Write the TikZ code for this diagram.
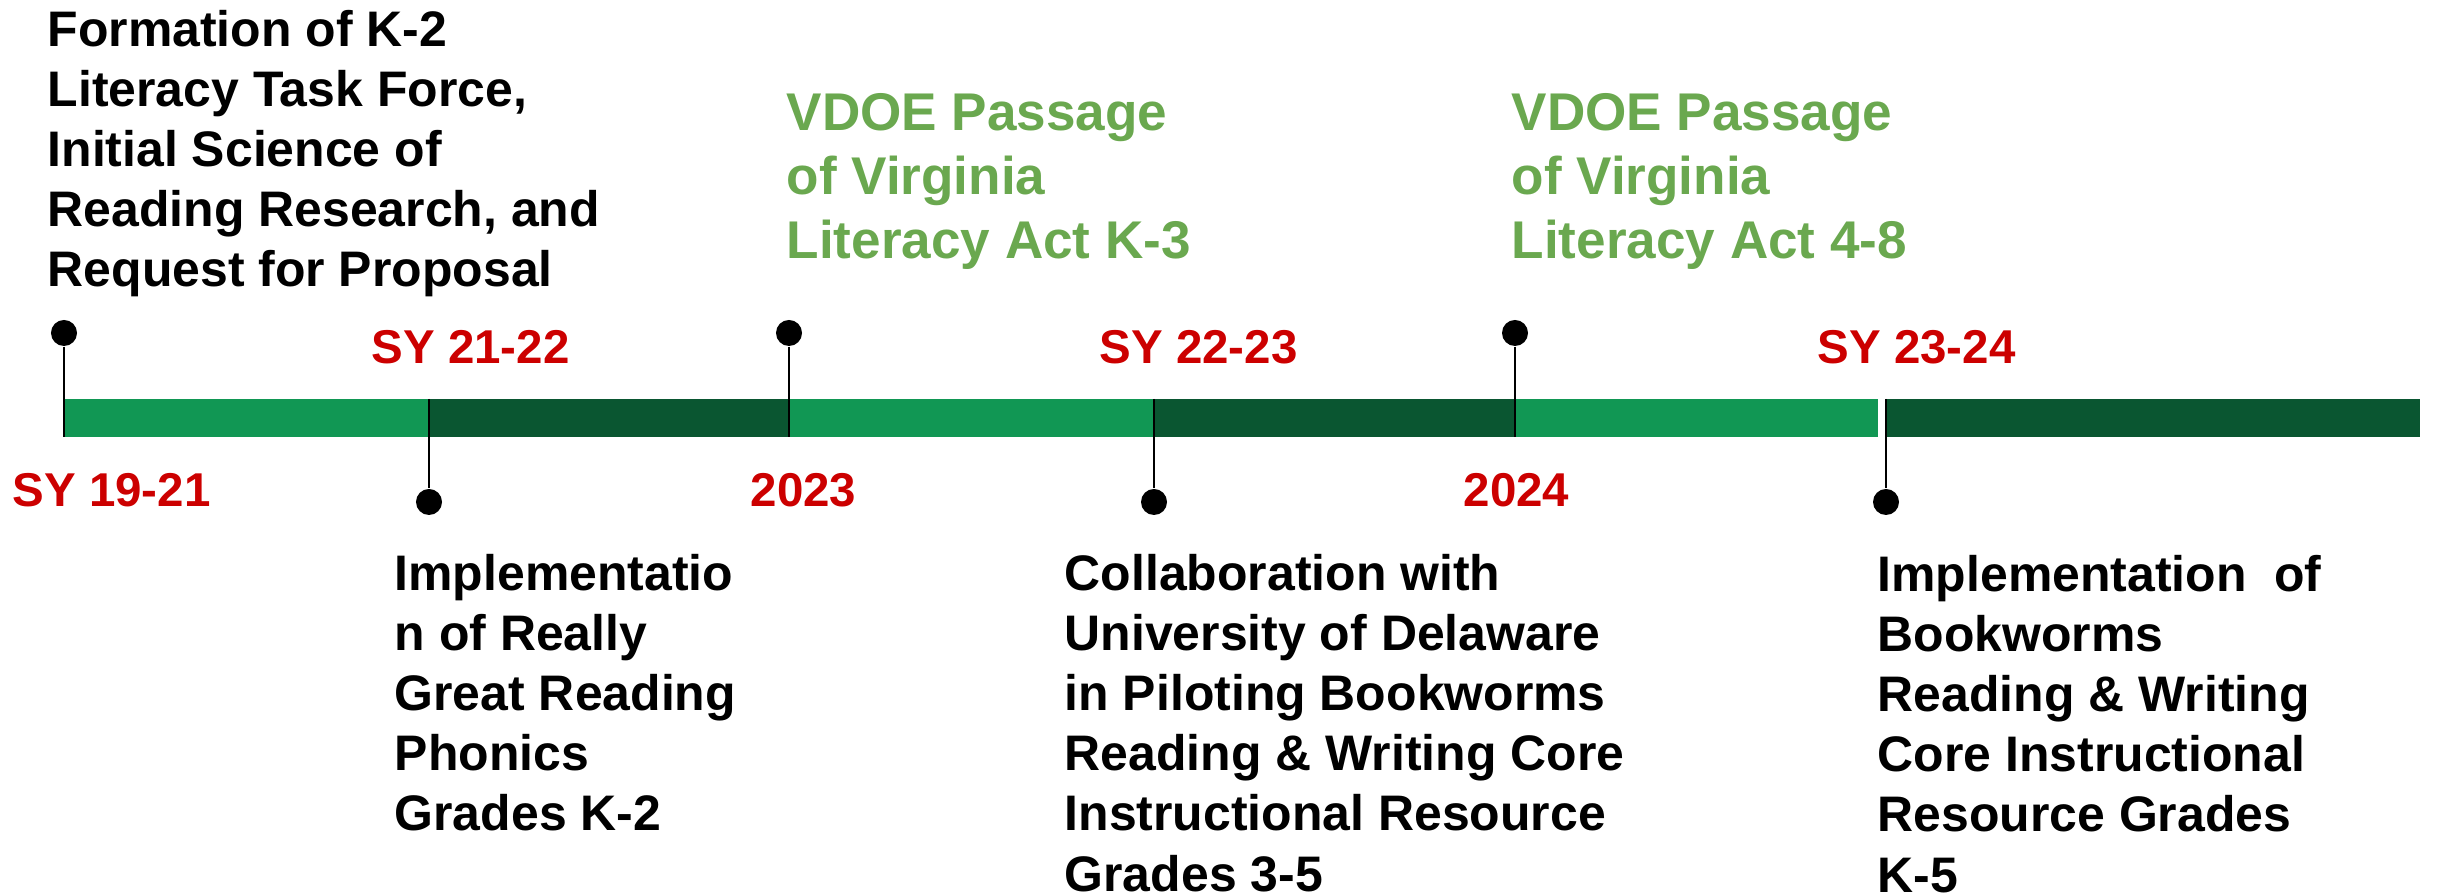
\documentclass[tikz,border=0pt]{standalone}
\usepackage{fontspec}
\setmainfont{Liberation Sans}
\definecolor{barlight}{RGB}{17,151,84}
\definecolor{bardark}{RGB}{10,86,49}
\definecolor{actgreen}{RGB}{106,168,79}
\definecolor{yearred}{RGB}{204,0,0}
\tikzset{
    pindot/.style={circle,fill=black,inner sep=0pt,minimum size=0.26cm},
    pinline/.style={line width=0.6pt},
    yearlabel/.style={anchor=base west,inner sep=0pt,text=yearred,font=\fontsize{13.5}{16.2}\selectfont\bfseries},
    eventtext/.style={anchor=north west,inner sep=0pt,align=left,font=\fontsize{14.2}{17.07}\selectfont\bfseries},
    acttext/.style={anchor=north west,inner sep=0pt,align=left,text=actgreen,font=\fontsize{15.1}{18.2}\selectfont\bfseries},
}
\begin{document}
\begin{tikzpicture}[x=0.01cm,y=-0.01cm]
    \useasboundingbox (0,0) rectangle (2438,895);
    %draw timeline bar
    \foreach \xa/\xb/\col in {64/429/barlight,429/790/bardark,790/1154/barlight,1154/1515/bardark,1515/1878/barlight,1885/2420/bardark}
        {%
            \fill[\col] (\xa,399) rectangle (\xb,437);
        }
    %draw pins above the bar
    \foreach \n/\x in {a/64,b/789,c/1515}
        {%
            \node[pindot] (top\n) at (\x,333) {};
            \coordinate (bartop\n) at (\x,437);
            \draw[pinline] (top\n) -- (bartop\n);
        }
    %draw pins below the bar
    \foreach \n/\x in {a/429,b/1154,c/1886}
        {%
            \node[pindot] (bot\n) at (\x,502) {};
            \coordinate (barbot\n) at (\x,399);
            \draw[pinline] (barbot\n) -- (bot\n);
        }
    %school years
    \node[yearlabel] (sy1921) at (12,507) {SY 19-21};
    \node[yearlabel] (sy2122) at (371,364) {SY 21-22};
    \node[yearlabel] (y2023) at (750,507) {2023};
    \node[yearlabel] (sy2223) at (1099,364) {SY 22-23};
    \node[yearlabel] (y2024) at (1463,507) {2024};
    \node[yearlabel] (sy2324) at (1817,364) {SY 23-24};
    %events
    \node[eventtext] (taskforce) at (47,10) {Formation of K-2\\Literacy Task Force,\\Initial Science of\\Reading Research, and\\Request for Proposal};
    \node[eventtext] (rgr) at (394,554) {Implementatio\\n of Really\\Great Reading\\Phonics\\Grades K-2};
    \node[eventtext] (udel) at (1064,554) {Collaboration with\\University of Delaware\\in Piloting Bookworms\\Reading \& Writing Core\\Instructional Resource\\Grades 3-5};
    \node[eventtext] (bookworms) at (1877,555) {Implementation~ of\\Bookworms\\Reading \& Writing\\Core Instructional\\Resource Grades\\K-5};
    %literacy acts
    \node[acttext] (actk3) at (786,93) {VDOE Passage\\of Virginia\\Literacy Act K-3};
    \node[acttext] (act48) at (1511,93) {VDOE Passage\\of Virginia\\Literacy Act 4-8};
\end{tikzpicture}
\end{document}
